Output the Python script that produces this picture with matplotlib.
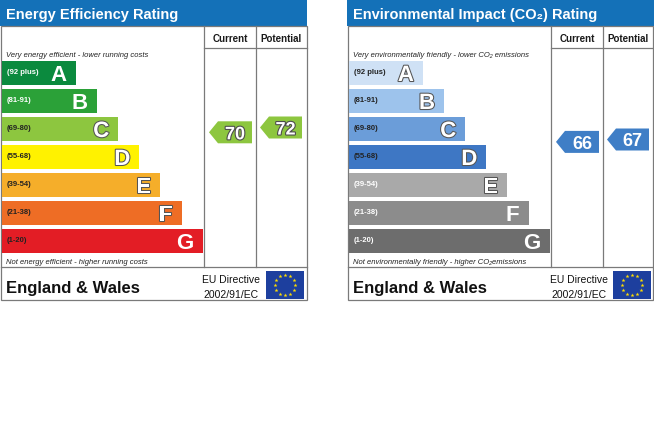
import matplotlib
matplotlib.use("Agg")
import matplotlib.pyplot as plt
import matplotlib.patheffects as pe
from matplotlib.patches import Rectangle, Polygon
import numpy as np

# ---------------- data ----------------
bands = ["A", "B", "C", "D", "E", "F", "G"]
band_ranges = ["(92 plus)", "(81-91)", "(69-80)", "(55-68)", "(39-54)", "(21-38)", "(1-20)"]

ee_colors = ["#0b8a3e", "#2ba138", "#8dc63f", "#fff200", "#f5ae2a", "#ee6d25", "#e31d25"]
co2_colors = ["#cfe1f5", "#9dc3ec", "#6b9dd9", "#3e77c4", "#a9a9a9", "#8c8c8c", "#6d6d6d"]

ee_current, ee_potential = 70, 72
co2_current, co2_potential = 66, 67

ee_title = "Energy Efficiency Rating"
co2_title = "Environmental Impact (CO\u2082) Rating"
ee_top = "Very energy efficient - lower running costs"
ee_bottom = "Not energy efficient - higher running costs"
co2_top = "Very environmentally friendly - lower CO\u2082 emissions"
co2_bottom = "Not environmentally friendly - higher CO\u2082emissions"

FONT = ["Liberation Sans", "DejaVu Sans"]
plt.rcParams["font.family"] = FONT

HEADER_BLUE = "#1471b8"
LINE = "#7a7a7a"

W, H = 654, 437
fig = plt.figure(figsize=(W / 100, H / 100), dpi=100)
ax = fig.add_axes([0, 0, 1, 1])
ax.set_xlim(0, W)
ax.set_ylim(H, 0)
ax.axis("off")


def rating_y(v):
    # vertical scale for the rating pointers
    return 127.5 + (72 - v) * 2.4


def eu_flag(cx, cy, w, h):
    ax.add_patch(Rectangle((cx - w / 2, cy - h / 2), w, h, facecolor="#1d3f9e", edgecolor="none"))
    ang = np.linspace(0, 2 * np.pi, 13)[:-1]
    ax.scatter(cx + 10 * np.cos(ang), cy + 10 * np.sin(ang), s=9, c="#ffdd00",
               marker="*", linewidths=0, zorder=5)


def arrow(xl, xr, yc, color, value, outlined):
    h = 22
    pts = [(xl, yc), (xl + 9, yc - h / 2), (xr, yc - h / 2), (xr, yc + h / 2), (xl + 9, yc + h / 2)]
    ax.add_patch(Polygon(pts, closed=True, facecolor=color, edgecolor="none", zorder=3))
    t = ax.text((xl + 9 + xr) / 2, yc + 7, str(value), color="white", fontsize=13,
                fontweight="bold", ha="center", va="baseline", zorder=4)
    if outlined:
        t.set_path_effects([pe.withStroke(linewidth=1.6, foreground="#4d4d4d")])


def panel(x0, hx0, hx1, width, title, colors, label_dark, letter_outline,
          top_txt, bot_txt, cur, pot, arrow_color, arrow_outline):
    # header
    ax.add_patch(Rectangle((hx0, 0), hx1 - hx0, 26, facecolor=HEADER_BLUE, edgecolor="none"))
    ax.text(x0 + 6, 18.5, title, color="white", fontsize=10.5, fontweight="bold",
            va="baseline", ha="left")
    # frame
    ax.add_patch(Rectangle((x0 + 0.5, 26), width, 274, facecolor="none",
                           edgecolor=LINE, linewidth=0.9))
    c1, c2, c3 = x0 + 204, x0 + 256, x0 + 0.5 + width
    ax.plot([c1, c1], [26, 267], color=LINE, lw=0.9)
    ax.plot([c2, c2], [26, 267], color=LINE, lw=0.9)
    ax.plot([c1, c3], [47.5, 47.5], color=LINE, lw=0.9)
    ax.plot([x0 + 0.5, c3], [267, 267], color=LINE, lw=0.9)
    ax.text((c1 + c2) / 2, 41.5, "Current", fontsize=7, fontweight="bold",
            ha="center", va="baseline", color="#1a1a1a")
    ax.text((c2 + c3) / 2, 41.5, "Potential", fontsize=7, fontweight="bold",
            ha="center", va="baseline", color="#1a1a1a")
    ax.text(x0 + 6, 57, top_txt, fontsize=5.5, style="italic", ha="left",
            va="baseline", color="#222222")
    ax.text(x0 + 6, 264, bot_txt, fontsize=5.5, style="italic", ha="left",
            va="baseline", color="#222222")
    # bars
    for i, (b, r, col) in enumerate(zip(bands, band_ranges, colors)):
        top = 61 + 28 * i
        length = 74.5 + 21.1 * i
        ax.add_patch(Rectangle((x0 + 1.5, top), length, 24, facecolor=col, edgecolor="none"))
        ax.text(x0 + 7, top + 12, r, fontsize=5.5, fontweight="bold",
                color="#222222" if label_dark[i] else "white", ha="left", va="center")
        t = ax.text(x0 + 1.5 + length - 9, top + 12 + 8, b, fontsize=16, fontweight="bold",
                    color="white", ha="right", va="baseline")
        if letter_outline[i]:
            t.set_path_effects([pe.withStroke(linewidth=1.5, foreground="#555555")])
    # pointers
    arrow(c1 + 5, c1 + 48, rating_y(cur), arrow_color, cur, arrow_outline)
    arrow(c2 + 4, c2 + 46, rating_y(pot), arrow_color, pot, arrow_outline)
    # footer
    ax.text(x0 + 6, 293, "England & Wales", fontsize=12, fontweight="bold",
            ha="left", va="baseline", color="#111111")
    ax.text(x0 + 231.5, 283, "EU Directive", fontsize=7.5, ha="center",
            va="baseline", color="#111111")
    ax.text(x0 + 231.5, 298, "2002/91/EC", fontsize=7.5, ha="center",
            va="baseline", color="#111111")
    eu_flag(x0 + 285, 285, 38, 28)


panel(0, 0, 307, 306, ee_title, ee_colors,
      [False, False, True, True, True, True, True],
      [False, False, True, True, True, True, False],
      ee_top, ee_bottom, ee_current, ee_potential, "#8dc63f", True)
panel(347, 347, 654, 305, co2_title, co2_colors,
      [True, True, True, True, False, False, False],
      [True, True, True, True, True, False, False],
      co2_top, co2_bottom, co2_current, co2_potential, "#3f7ec6", False)

fig.savefig("out.png", dpi=100, facecolor="white")
